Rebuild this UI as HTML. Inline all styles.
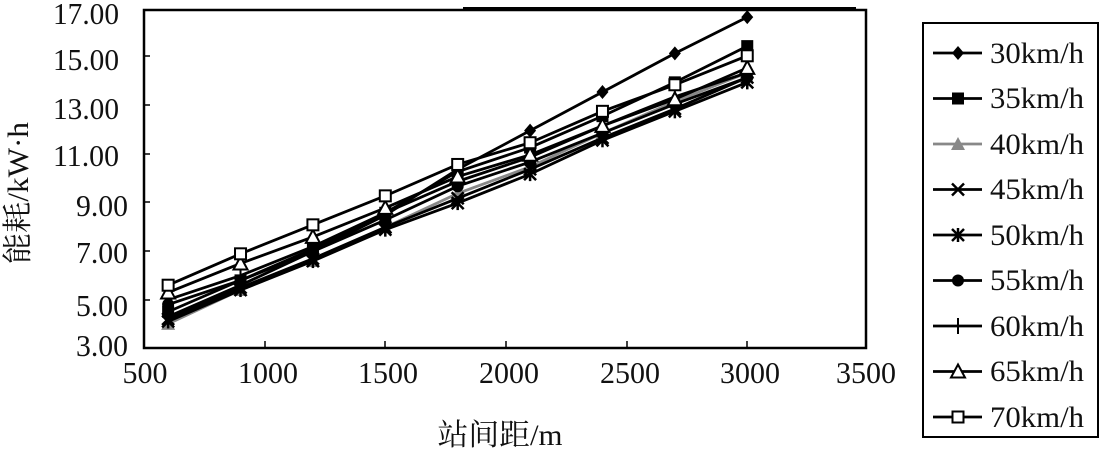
<!DOCTYPE html>
<html><head><meta charset="utf-8"><style>
html,body{margin:0;padding:0;background:#fff;}
svg{display:block;}
text{font-family:"Liberation Serif","Noto Serif CJK SC",serif;fill:#111;}
</style></head><body>
<svg id="s" width="1105" height="451" viewBox="0 0 1105 451" xmlns="http://www.w3.org/2000/svg">
<rect x="0" y="0" width="1105" height="451" fill="#fff"/>
<rect x="144" y="10" width="722" height="338" fill="none" stroke="#000" stroke-width="2.5"/>
<line x1="463" y1="8" x2="856" y2="8" stroke="#000" stroke-width="2"/>
<g stroke="#000" stroke-width="1.5">
<line x1="265" y1="348" x2="265" y2="341"/><line x1="385" y1="348" x2="385" y2="341"/>
<line x1="506" y1="348" x2="506" y2="341"/><line x1="627" y1="348" x2="627" y2="341"/>
<line x1="747" y1="348" x2="747" y2="341"/>
<line x1="144" y1="56" x2="150" y2="56"/><line x1="144" y1="105" x2="150" y2="105"/>
<line x1="144" y1="154" x2="150" y2="154"/><line x1="144" y1="202" x2="150" y2="202"/>
<line x1="144" y1="251" x2="150" y2="251"/><line x1="144" y1="300" x2="150" y2="300"/>
</g>
<g font-size="31" text-anchor="end">
<text x="119" y="24" textLength="66" lengthAdjust="spacingAndGlyphs">17.00</text>
<text x="119" y="70" textLength="66" lengthAdjust="spacingAndGlyphs">15.00</text>
<text x="119" y="119" textLength="66" lengthAdjust="spacingAndGlyphs">13.00</text>
<text x="119" y="166" textLength="66" lengthAdjust="spacingAndGlyphs">11.00</text>
<text x="128" y="216" textLength="52" lengthAdjust="spacingAndGlyphs">9.00</text>
<text x="128" y="263" textLength="52" lengthAdjust="spacingAndGlyphs">7.00</text>
<text x="128" y="316" textLength="52" lengthAdjust="spacingAndGlyphs">5.00</text>
<text x="128" y="356" textLength="52" lengthAdjust="spacingAndGlyphs">3.00</text>
</g>
<g font-size="31" text-anchor="middle">
<text x="145" y="383" textLength="45" lengthAdjust="spacingAndGlyphs">500</text>
<text x="268" y="383" textLength="60" lengthAdjust="spacingAndGlyphs">1000</text>
<text x="388" y="383" textLength="60" lengthAdjust="spacingAndGlyphs">1500</text>
<text x="509" y="383" textLength="60" lengthAdjust="spacingAndGlyphs">2000</text>
<text x="630" y="383" textLength="60" lengthAdjust="spacingAndGlyphs">2500</text>
<text x="750" y="383" textLength="60" lengthAdjust="spacingAndGlyphs">3000</text>
<text x="866" y="383" textLength="60" lengthAdjust="spacingAndGlyphs">3500</text>
</g>
<text x="500" y="445" font-size="30" text-anchor="middle" textLength="125" lengthAdjust="spacingAndGlyphs">站间距/m</text>
<text transform="translate(28,193) rotate(-90)" font-size="30" text-anchor="middle" textLength="142" lengthAdjust="spacingAndGlyphs">能耗/kW·h</text>
<rect x="923" y="23" width="175" height="414" fill="none" stroke="#000" stroke-width="2"/>
<g font-size="30">
<text x="990" y="63" textLength="94" lengthAdjust="spacingAndGlyphs">30km/h</text>
<text x="990" y="108" textLength="94" lengthAdjust="spacingAndGlyphs">35km/h</text>
<text x="990" y="154" textLength="94" lengthAdjust="spacingAndGlyphs">40km/h</text>
<text x="990" y="199" textLength="94" lengthAdjust="spacingAndGlyphs">45km/h</text>
<text x="990" y="245" textLength="94" lengthAdjust="spacingAndGlyphs">50km/h</text>
<text x="990" y="290" textLength="94" lengthAdjust="spacingAndGlyphs">55km/h</text>
<text x="990" y="336" textLength="94" lengthAdjust="spacingAndGlyphs">60km/h</text>
<text x="990" y="381" textLength="94" lengthAdjust="spacingAndGlyphs">65km/h</text>
<text x="990" y="427" textLength="94" lengthAdjust="spacingAndGlyphs">70km/h</text>
</g>
<g id="series"></g>
</svg>
<script>
var data=[
["d","#000",[4.3,5.6,7.0,8.5,10.4,12.0,13.6,15.2,16.7]],
["s","#000",[4.5,5.8,7.1,8.6,10.3,11.3,12.6,14.0,15.5]],
["t","#888",[4.0,5.4,6.6,8.0,9.4,10.5,11.9,13.2,14.4]],
["x","#000",[4.2,5.5,6.7,8.0,9.2,10.4,11.7,12.9,14.2]],
["a","#000",[4.1,5.4,6.6,7.9,9.0,10.2,11.6,12.8,14.0]],
["c","#000",[4.8,5.8,7.0,8.3,9.7,10.7,11.9,13.1,14.2]],
["p","#000",[5.0,6.0,7.2,8.6,9.9,10.9,12.2,13.4,14.4]],
["T","#000",[5.3,6.5,7.6,8.8,10.1,11.0,12.2,13.3,14.6]],
["S","#000",[5.6,6.9,8.1,9.3,10.6,11.5,12.8,13.9,15.1]]];
var NS="http://www.w3.org/2000/svg",g=document.getElementById("series");
function X(v){return 144+(v-500)*0.2413;}
function Y(v){return 348-(v-3)*24.15;}
function el(n,a){var e=document.createElementNS(NS,n);for(var k in a)e.setAttribute(k,a[k]);g.appendChild(e);return e;}
function mk(t,c,x,y){
 if(t=="d")el("polygon",{points:(x)+","+(y-7)+" "+(x+6)+","+y+" "+x+","+(y+7)+" "+(x-6)+","+y,fill:c});
 else if(t=="s")el("rect",{x:x-6,y:y-6,width:12,height:12,fill:c});
 else if(t=="t")el("polygon",{points:x+","+(y-7)+" "+(x+7)+","+(y+6)+" "+(x-7)+","+(y+6),fill:c});
 else if(t=="T")el("polygon",{points:x+","+(y-7)+" "+(x+7)+","+(y+6)+" "+(x-7)+","+(y+6),fill:"#fff",stroke:c,"stroke-width":2});
 else if(t=="S")el("rect",{x:x-5.5,y:y-5.5,width:11,height:11,fill:"#fff",stroke:c,"stroke-width":2});
 else if(t=="c")el("circle",{cx:x,cy:y,r:6,fill:c});
 else if(t=="x"){el("line",{x1:x-6,y1:y-6,x2:x+6,y2:y+6,stroke:c,"stroke-width":2.5});el("line",{x1:x-6,y1:y+6,x2:x+6,y2:y-6,stroke:c,"stroke-width":2.5});}
 else if(t=="a"){el("line",{x1:x-6,y1:y-6,x2:x+6,y2:y+6,stroke:c,"stroke-width":2.5});el("line",{x1:x-6,y1:y+6,x2:x+6,y2:y-6,stroke:c,"stroke-width":2.5});el("line",{x1:x,y1:y-7,x2:x,y2:y+7,stroke:c,"stroke-width":2.5});}
 else if(t=="p"){el("line",{x1:x,y1:y-8,x2:x,y2:y+8,stroke:c,"stroke-width":2});}
}
data.forEach(function(s,i){
 var pts=s[2].map(function(v,j){return X(600+300*j)+","+Y(v);}).join(" ");
 el("polyline",{points:pts,fill:"none",stroke:s[1],"stroke-width":2.8});
 s[2].forEach(function(v,j){mk(s[0],s[1],X(600+300*j),Y(v));});
 var ly=53+45.5*i;
 el("line",{x1:933,y1:ly,x2:982,y2:ly,stroke:s[1],"stroke-width":2.8});
 mk(s[0],s[1],958,ly);
});
</script>
</body></html>
